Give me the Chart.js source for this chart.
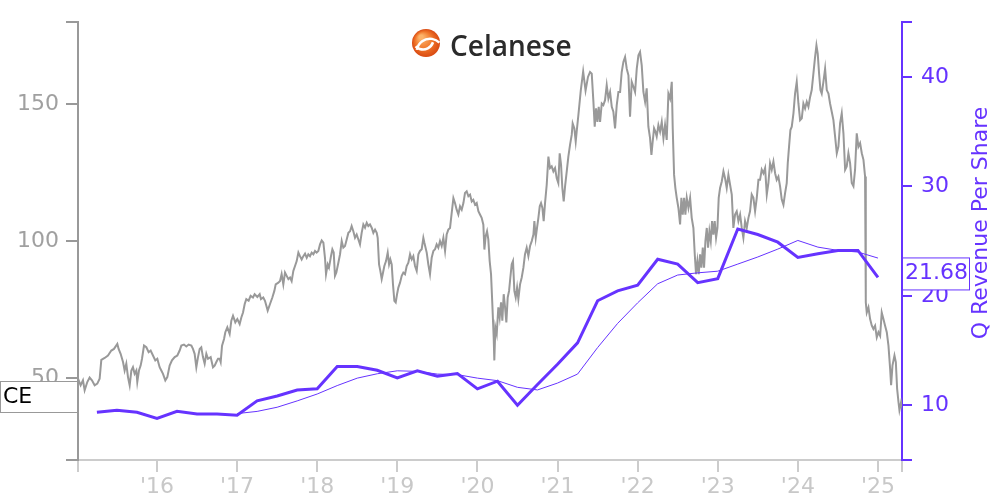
<!DOCTYPE html>
<html lang="en">
<head>
    <meta charset="UTF-8">
    <title>Celanese - Price vs Q Revenue Per Share</title>
    <script src="https://cdn.jsdelivr.net/npm/chart.js"></script>
    <style>
        html, body {
            margin: 0;
            padding: 0;
            background: #fff;
        }
        .chart-box {
            width: 1000px;
            height: 500px;
        }
    </style>
</head>
<body>
    <div class="chart-box">
        <canvas id="ceChart" width="1000" height="500"></canvas>
    </div>

    <script>
        const ticker = 'CE';
        const company = 'Celanese';

        // share price (decimal year, value)
        const priceDates = [
            2015.014, 2015.047, 2015.076, 2015.097, 2015.130, 2015.159, 2015.188, 2015.222, 2015.255, 2015.284,
            2015.305, 2015.347, 2015.388, 2015.430, 2015.463, 2015.505, 2015.521, 2015.546, 2015.576, 2015.596,
            2015.617, 2015.638, 2015.659, 2015.680, 2015.700, 2015.721, 2015.742, 2015.754, 2015.775, 2015.796,
            2015.813, 2015.838, 2015.867, 2015.896, 2015.921, 2015.950, 2015.979, 2016.004, 2016.033, 2016.054,
            2016.075, 2016.104, 2016.129, 2016.158, 2016.187, 2016.221, 2016.254, 2016.283, 2016.304, 2016.337,
            2016.366, 2016.395, 2016.429, 2016.449, 2016.470, 2016.491, 2016.512, 2016.533, 2016.553, 2016.574,
            2016.595, 2016.616, 2016.637, 2016.670, 2016.699, 2016.720, 2016.741, 2016.762, 2016.782, 2016.795,
            2016.812, 2016.837, 2016.853, 2016.878, 2016.907, 2016.928, 2016.949, 2016.978, 2017.003, 2017.032,
            2017.053, 2017.074, 2017.095, 2017.115, 2017.144, 2017.169, 2017.198, 2017.219, 2017.253, 2017.282,
            2017.298, 2017.327, 2017.348, 2017.382, 2017.411, 2017.440, 2017.465, 2017.482, 2017.515, 2017.536,
            2017.556, 2017.577, 2017.598, 2017.619, 2017.640, 2017.661, 2017.681, 2017.702, 2017.723, 2017.744,
            2017.765, 2017.785, 2017.806, 2017.827, 2017.848, 2017.869, 2017.889, 2017.910, 2017.931, 2017.952,
            2017.973, 2017.993, 2018.014, 2018.035, 2018.056, 2018.077, 2018.097, 2018.110, 2018.131, 2018.147,
            2018.172, 2018.189, 2018.206, 2018.222, 2018.239, 2018.264, 2018.285, 2018.306, 2018.326, 2018.347,
            2018.368, 2018.389, 2018.410, 2018.430, 2018.451, 2018.472, 2018.493, 2018.514, 2018.534, 2018.555,
            2018.576, 2018.597, 2018.618, 2018.638, 2018.659, 2018.680, 2018.701, 2018.722, 2018.743, 2018.755,
            2018.772, 2018.788, 2018.805, 2018.822, 2018.838, 2018.859, 2018.880, 2018.897, 2018.913, 2018.930,
            2018.946, 2018.963, 2018.980, 2018.997, 2019.013, 2019.034, 2019.055, 2019.075, 2019.096, 2019.117,
            2019.138, 2019.159, 2019.180, 2019.200, 2019.221, 2019.242, 2019.263, 2019.283, 2019.304, 2019.325, 2019.338,
            2019.367, 2019.387, 2019.408, 2019.429, 2019.450, 2019.471, 2019.491, 2019.512, 2019.533, 2019.554,
            2019.575, 2019.596, 2019.616, 2019.637, 2019.658, 2019.679, 2019.700, 2019.720, 2019.741, 2019.762,
            2019.783, 2019.804, 2019.825, 2019.845, 2019.866, 2019.887, 2019.908, 2019.929, 2019.949, 2019.970,
            2019.991, 2020.012, 2020.032, 2020.053, 2020.074, 2020.087, 2020.103, 2020.120, 2020.136, 2020.153,
            2020.170, 2020.186, 2020.203, 2020.211, 2020.224, 2020.241, 2020.261, 2020.278, 2020.295, 2020.311,
            2020.328, 2020.345, 2020.361, 2020.378, 2020.395, 2020.411, 2020.428, 2020.444, 2020.461, 2020.478,
            2020.495, 2020.511, 2020.532, 2020.553, 2020.574, 2020.594, 2020.615, 2020.636, 2020.657, 2020.678,
            2020.699, 2020.711, 2020.728, 2020.744, 2020.761, 2020.778, 2020.794, 2020.811, 2020.827, 2020.844,
            2020.865, 2020.886, 2020.906, 2020.927, 2020.948, 2020.969, 2020.990, 2021.010, 2021.027, 2021.044,
            2021.060, 2021.077, 2021.094, 2021.115, 2021.135, 2021.156, 2021.177, 2021.189, 2021.210, 2021.227, 2021.239,
            2021.260, 2021.290, 2021.320, 2021.350, 2021.380,
            2021.406, 2021.427, 2021.448, 2021.464, 2021.481, 2021.498, 2021.514, 2021.531, 2021.552, 2021.572,
            2021.593, 2021.614, 2021.635, 2021.656, 2021.677, 2021.697, 2021.718, 2021.739, 2021.760, 2021.781,
            2021.801, 2021.822, 2021.843, 2021.864, 2021.885, 2021.905, 2021.926, 2021.947, 2021.968, 2021.989,
            2022.010, 2022.030, 2022.051, 2022.072, 2022.093, 2022.113, 2022.134, 2022.155, 2022.172, 2022.188,
            2022.205, 2022.222, 2022.238, 2022.259, 2022.280, 2022.301, 2022.322, 2022.342, 2022.363, 2022.384,
            2022.405, 2022.426, 2022.438, 2022.455, 2022.471, 2022.488, 2022.509, 2022.530, 2022.546, 2022.563,
            2022.580, 2022.596, 2022.613, 2022.634, 2022.655, 2022.675, 2022.696, 2022.713, 2022.729, 2022.746,
            2022.763, 2022.779, 2022.796, 2022.813, 2022.829, 2022.846, 2022.863, 2022.879, 2022.896, 2022.913,
            2022.929, 2022.946, 2022.962, 2022.979, 2022.996, 2023.012, 2023.029, 2023.050, 2023.071, 2023.091,
            2023.112, 2023.133, 2023.154, 2023.175, 2023.195, 2023.216, 2023.237, 2023.258, 2023.279, 2023.300,
            2023.320, 2023.341, 2023.362, 2023.383, 2023.403, 2023.424, 2023.445, 2023.466, 2023.487, 2023.508,
            2023.528, 2023.549, 2023.570, 2023.591, 2023.612, 2023.632, 2023.653, 2023.674, 2023.695, 2023.716,
            2023.736, 2023.757, 2023.778, 2023.799, 2023.820, 2023.841, 2023.861, 2023.874, 2023.890, 2023.907,
            2023.924, 2023.945, 2023.965, 2023.986, 2024.007, 2024.028, 2024.049, 2024.069, 2024.090, 2024.111,
            2024.132, 2024.153, 2024.173, 2024.194, 2024.215, 2024.232, 2024.248, 2024.265, 2024.282, 2024.298,
            2024.319, 2024.340, 2024.361, 2024.382, 2024.402, 2024.423, 2024.444, 2024.465, 2024.486, 2024.506,
            2024.527, 2024.548, 2024.569, 2024.590, 2024.610, 2024.631, 2024.652, 2024.673, 2024.694, 2024.714,
            2024.735, 2024.756, 2024.777, 2024.798, 2024.819, 2024.839, 2024.848, 2024.860, 2024.881, 2024.902,
            2024.923, 2024.943, 2024.964, 2024.985, 2025.006, 2025.027, 2025.047, 2025.068, 2025.089, 2025.110,
            2025.131, 2025.152, 2025.164, 2025.181, 2025.206, 2025.223, 2025.239, 2025.256, 2025.268, 2025.289, 2025.298
        ];
        const priceValues = [
            49.7, 47.3, 49.1, 45.5, 48.5, 50.1, 49.1, 47.3, 47.9, 49.7,
            56.6, 57.3, 58.2, 60.0, 60.6, 62.4, 60.6, 58.8, 55.8, 52.7,
            55.2, 50.3, 47.3, 52.7, 53.9, 51.5, 52.7, 48.5, 52.7, 54.5,
            57.0, 61.8, 61.2, 59.4, 60.0, 58.2, 56.4, 57.0, 53.9, 52.7,
            51.5, 49.1, 50.3, 54.5, 56.4, 57.6, 58.2, 60.0, 61.8, 62.2,
            61.5, 62.2, 61.8, 60.6, 58.8, 53.9, 57.6, 60.6, 61.2, 57.6,
            55.2, 58.8, 57.0, 57.6, 53.9, 54.5, 55.8, 57.0, 57.0, 55.8,
            61.8, 64.2, 66.7, 68.5, 66.1, 70.9, 72.7, 70.3, 71.5, 69.7,
            72.1, 73.9, 77.0, 78.8, 78.2, 80.0, 79.4, 80.6, 79.6, 80.6,
            78.8, 79.4, 78.2, 74.6, 77.0, 79.4, 81.8, 84.2, 84.8, 85.4,
            87.9, 84.2, 88.5, 87.3, 86.1, 86.7, 85.4, 89.1, 90.9, 92.7,
            95.8, 94.5, 93.3, 94.5, 95.4, 93.9, 95.2, 94.5, 95.8, 95.2,
            96.4, 95.8, 96.4, 98.8, 100.2, 99.4, 93.9, 87.9, 91.5, 90.3,
            94.5, 97.0, 95.8, 87.3, 88.5, 92.1, 95.2, 100.0, 97.6, 98.2,
            100.6, 103.0, 103.6, 105.5, 103.6, 101.2, 102.4, 100.6, 98.8, 103.0,
            106.1, 104.9, 106.7, 105.5, 106.1, 104.9, 103.0, 104.2, 103.0, 101.2,
            91.5, 89.1, 86.1, 88.5, 90.9, 92.7, 95.8, 91.5, 93.3, 91.5,
            84.2, 78.2, 77.6, 80.6, 83.0, 84.8, 87.3, 88.5, 87.9, 90.9,
            92.1, 95.2, 93.3, 94.5, 90.9, 89.1, 95.2, 96.4, 97.0, 101.2, 99.4,
            95.8, 91.5, 87.9, 93.9, 96.4, 97.0, 98.8, 97.6, 100.0, 98.2,
            101.2, 96.4, 102.4, 104.2, 104.8, 110.3, 115.7, 113.9, 111.5, 109.7,
            112.7, 111.5, 113.9, 117.6, 118.2, 116.4, 117.0, 114.5, 115.1, 113.3,
            113.9, 110.9, 109.7, 108.5, 106.0, 96.9, 101.8, 103.6, 100.6, 92.7,
            87.9, 77.0, 64.8, 56.4, 68.5, 66.1, 75.8, 72.1, 77.6, 70.9,
            80.6, 75.8, 70.3, 79.4, 81.8, 86.7, 91.5, 92.7, 81.8, 79.4,
            83.0, 78.8, 84.2, 86.7, 90.3, 95.2, 97.6, 94.5, 98.2, 100.0,
            102.4, 107.3, 101.2, 104.8, 108.5, 112.7, 113.9, 112.1, 107.3, 113.9,
            120.6, 130.9, 126.7, 127.3, 125.5, 126.7, 123.0, 121.2, 132.1, 127.9,
            119.4, 114.5, 120.0, 125.5, 130.9, 135.2, 138.8, 143.0, 141.2, 136.4, 140.0,
            146.0, 155.0, 162.0, 155.0, 160.0,
            161.8, 161.2, 150.9, 141.8, 148.5, 143.6, 149.1, 143.6, 150.3, 149.7,
            151.5, 157.0, 152.1, 154.5, 149.1, 147.3, 141.2, 149.7, 154.5, 154.5,
            161.8, 165.5, 167.3, 163.0, 160.6, 145.5, 158.2, 156.4, 154.5, 163.0,
            167.9, 169.1, 164.2, 154.5, 150.9, 155.8, 141.8, 137.6, 131.5, 136.4,
            141.2, 140.0, 138.2, 142.4, 140.0, 143.6, 137.6, 142.4, 137.0, 153.9,
            152.1, 158.2, 141.2, 124.2, 119.4, 115.8, 112.1, 106.1, 115.8, 109.7,
            115.8, 109.7, 115.8, 112.1, 115.8, 108.5, 104.8, 95.2, 87.9, 92.7,
            87.9, 95.2, 90.3, 97.6, 90.3, 100.0, 104.8, 97.6, 103.6, 100.0,
            107.3, 102.4, 107.3, 101.2, 104.8, 115.8, 119.4, 121.8, 125.5, 123.0,
            119.4, 124.2, 120.6, 117.0, 104.8, 109.7, 110.9, 107.3, 109.7, 104.8,
            101.2, 107.3, 104.8, 108.5, 110.9, 117.0, 115.8, 110.9, 115.8, 122.4,
            122.4, 126.1, 124.8, 126.7, 117.0, 121.2, 128.5, 126.1, 129.1, 124.8,
            122.4, 123.6, 120.0, 115.2, 113.3, 117.6, 121.2, 128.5, 134.5, 140.6,
            141.8, 146.7, 153.9, 158.2, 150.3, 144.2, 144.9, 150.3, 148.5, 150.9,
            149.1, 152.7, 155.2, 161.2, 167.3, 171.5, 168.5, 161.2, 155.2, 153.9,
            158.2, 163.0, 155.2, 153.9, 150.3, 147.3, 144.2, 138.2, 132.1, 134.5,
            143.0, 146.7, 139.4, 126.1, 127.3, 132.1, 128.5, 121.2, 120.0, 126.1,
            139.4, 134.5, 135.8, 132.1, 129.7, 123.6, 77.6, 73.9, 75.8, 71.5,
            69.1, 67.9, 69.1, 64.8, 66.7, 65.4, 73.9, 71.5, 69.1, 66.7,
            61.8, 53.3, 47.3, 54.5, 58.2, 55.8, 46.1, 41.2, 38.2, 41.2, 40.0
        ];

        const quarters = [
            '2015Q1', '2015Q2', '2015Q3', '2015Q4', '2016Q1', '2016Q2', '2016Q3', '2016Q4',
            '2017Q1', '2017Q2', '2017Q3', '2017Q4', '2018Q1', '2018Q2', '2018Q3', '2018Q4',
            '2019Q1', '2019Q2', '2019Q3', '2019Q4', '2020Q1', '2020Q2', '2020Q3', '2020Q4',
            '2021Q1', '2021Q2', '2021Q3', '2021Q4', '2022Q1', '2022Q2', '2022Q3', '2022Q4',
            '2023Q1', '2023Q2', '2023Q3', '2023Q4', '2024Q1', '2024Q2', '2024Q3', '2024Q4'
        ];
        // quarterly revenue per share
        const qRevenue = [
            9.36, 9.55, 9.36, 8.80, 9.45, 9.20, 9.20, 9.10,
            10.40, 10.85, 11.40, 11.50, 13.55, 13.55, 13.20, 12.50,
            13.15, 12.65, 12.90, 11.50, 12.20, 10.00, 11.90, 13.75,
            15.70, 19.55, 20.45, 20.97, 23.34, 22.90, 21.20, 21.57,
            26.10, 25.60, 24.90, 23.50, 23.85, 24.15, 24.15, 21.68
        ];
        // trailing average line (thin)
        const qRevenueAvg = [
            null, null, null, null, null, null, null, 9.24,
            9.44, 9.82, 10.40, 11.03, 11.80, 12.48, 12.88, 13.15,
            13.10, 12.85, 12.80, 12.48, 12.25, 11.64, 11.40, 12.03,
            12.85, 15.27, 17.48, 19.36, 21.10, 21.90, 22.10, 22.25,
            22.90, 23.55, 24.27, 25.06, 24.45, 24.15, 24.00, 23.45
        ];

        const yearTicks = [2016, 2017, 2018, 2019, 2020, 2021, 2022, 2023, 2024, 2025];
        const priceTicks = [50, 100, 150];
        const revenueTicks = [10, 20, 30, 40];

        const xMin = 2015.014;
        const xMax = 2025.30;
        const PURPLE = '#6633ff';

        function quarterEnd(q) {
            return parseInt(q.slice(0, 4)) + parseInt(q.slice(5)) / 4;
        }

        const pricePoints = priceDates.map((d, i) => ({ x: d, y: priceValues[i] }));
        const revPoints = quarters.map((q, i) => ({ x: quarterEnd(q), y: qRevenue[i] }));
        const avgPoints = quarters.map((q, i) => ({ x: quarterEnd(q), y: qRevenueAvg[i] }));

        Chart.defaults.font.family = 'DejaVu Sans';
        Chart.defaults.font.size = 22;

        const overlay = {
            id: 'overlay',
            afterDraw(chart) {
                const ctx = chart.ctx;
                const yRev = chart.scales.y1;
                ctx.save();

                // logo mark
                const cx = 426, cy = 43, r = 14;
                const grad = ctx.createRadialGradient(cx - 5, cy - 6, 2, cx, cy, r);
                grad.addColorStop(0, '#fcb36a');
                grad.addColorStop(0.55, '#f0762a');
                grad.addColorStop(1, '#d94a12');
                ctx.fillStyle = grad;
                ctx.beginPath();
                ctx.arc(cx, cy, r, 0, Math.PI * 2);
                ctx.fill();
                ctx.strokeStyle = '#fff';
                ctx.lineWidth = 2.5;
                ctx.beginPath();
                ctx.arc(cx + 4, cy + 9, r * 0.95, Math.PI * 1.05, Math.PI * 1.75);
                ctx.stroke();
                ctx.beginPath();
                ctx.arc(cx - 3, cy - 4, r * 0.75, Math.PI * 0.1, Math.PI * 0.75);
                ctx.stroke();

                ctx.fillStyle = '#2b2b2b';
                ctx.font = '600 28px "Open Sans"';
                ctx.textAlign = 'left';
                ctx.textBaseline = 'alphabetic';
                ctx.fillText(company, 450, 56);

                // ticker box on the left
                ctx.fillStyle = '#fff';
                ctx.fillRect(0.5, 381.5, 77, 31);
                ctx.strokeStyle = '#999';
                ctx.lineWidth = 1;
                ctx.strokeRect(0.5, 381.5, 77, 31);
                ctx.fillStyle = '#000';
                ctx.font = '22px "DejaVu Sans"';
                ctx.textBaseline = 'middle';
                ctx.fillText(ticker, 3, 397);

                // last value box on the right axis
                const last = qRevenue[qRevenue.length - 1];
                const ly = yRev.getPixelForValue(last) - 4;
                ctx.fillStyle = '#fff';
                ctx.fillRect(902.5, ly - 15.5, 67, 32);
                ctx.strokeStyle = PURPLE;
                ctx.strokeRect(902.5, ly - 15.5, 67, 32);
                ctx.fillStyle = PURPLE;
                ctx.fillText(last.toFixed(2), 905, ly);

                // right axis title
                ctx.translate(981, 223);
                ctx.rotate(-Math.PI / 2);
                ctx.textAlign = 'center';
                ctx.fillText('Q Revenue Per Share', 0, 0);
                ctx.restore();
            }
        };

        function fixedTicks(values) {
            return function (scale) {
                scale.ticks = [scale.min, ...values, scale.max].map(v => ({ value: v }));
            };
        }

        new Chart(document.getElementById('ceChart'), {
            type: 'line',
            data: {
                datasets: [{
                    label: 'Q Revenue Per Share',
                    data: revPoints,
                    borderColor: PURPLE,
                    borderWidth: 3,
                    pointRadius: 0,
                    yAxisID: 'y1'
                }, {
                    label: 'Average',
                    data: avgPoints,
                    borderColor: PURPLE,
                    borderWidth: 1,
                    pointRadius: 0,
                    yAxisID: 'y1'
                }, {
                    label: ticker,
                    data: pricePoints,
                    borderColor: '#999999',
                    borderWidth: 2,
                    pointRadius: 0,
                    yAxisID: 'y'
                }]
            },
            options: {
                responsive: false,
                animation: false,
                layout: { padding: { top: 18, left: 0, right: 0, bottom: 0 } },
                plugins: {
                    legend: { display: false },
                    tooltip: { enabled: false }
                },
                scales: {
                    x: {
                        type: 'linear',
                        position: 'bottom',
                        min: xMin,
                        max: xMax,
                        afterBuildTicks: fixedTicks(yearTicks),
                        afterFit(scale) { scale.height = 40; },
                        grid: { drawOnChartArea: false, color: '#cccccc', lineWidth: 2, tickLength: 12 },
                        border: { color: '#cccccc', width: 2 },
                        ticks: {
                            color: '#c8c8c8',
                            padding: 2,
                            autoSkip: false,
                            maxRotation: 0,
                            callback: v => Number.isInteger(v) ? "'" + String(v).slice(2) : ''
                        }
                    },
                    y: {
                        position: 'left',
                        min: 20,
                        max: 180,
                        afterBuildTicks: fixedTicks(priceTicks),
                        afterFit(scale) { scale.width = 78; },
                        grid: { drawOnChartArea: false, color: '#999999', lineWidth: 2, tickLength: 12 },
                        border: { color: '#999999', width: 2 },
                        ticks: {
                            color: '#a0a0a0',
                            padding: 7,
                            callback: v => priceTicks.includes(v) ? String(v) : ''
                        }
                    },
                    y1: {
                        position: 'right',
                        min: 5,
                        max: 45,
                        afterBuildTicks: fixedTicks(revenueTicks),
                        afterFit(scale) { scale.width = 98; },
                        grid: { drawOnChartArea: false, color: PURPLE, lineWidth: 2, tickLength: 10 },
                        border: { color: PURPLE, width: 2 },
                        ticks: {
                            color: PURPLE,
                            padding: 9,
                            callback: v => revenueTicks.includes(v) ? String(v) : ''
                        }
                    }
                }
            },
            plugins: [overlay]
        });
    </script>
</body>
</html>
